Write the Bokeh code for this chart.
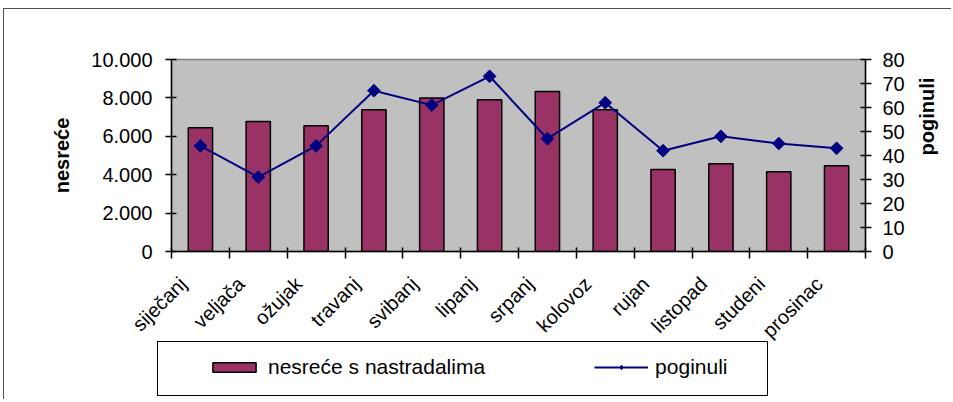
import math
from bokeh.plotting import figure
from bokeh.models import (ColumnDataSource, Range1d, LinearAxis, FixedTicker,
                          Legend, LegendItem)
from bokeh.embed import file_html
from bokeh.resources import INLINE

# ---- data ----
months = ["siječanj", "veljača", "ožujak", "travanj", "svibanj", "lipanj",
          "srpanj", "kolovoz", "rujan", "listopad", "studeni", "prosinac"]
nesrece = [6450, 6770, 6550, 7380, 8000, 7900, 8330, 7380, 4270, 4570, 4150, 4460]
poginuli = [44, 31, 44, 67, 61, 73, 47, 62, 42, 48, 45, 43]
y_ticks = [0, 2000, 4000, 6000, 8000, 10000]
y_tick_labels = ["0", "2.000", "4.000", "6.000", "8.000", "10.000"]
y2_ticks = [0, 10, 20, 30, 40, 50, 60, 70, 80]
series_names = ["nesreće s nastradalima", "poginuli"]

FONT = "Liberation Sans"
FS = "20px"
BAR_COLOR = "#993366"
LINE_COLOR = "#000080"

xpos = [i + 0.5 for i in range(len(months))]
src = ColumnDataSource(dict(x=xpos, nesrece=nesrece, poginuli=poginuli))

p = figure(frame_width=694, frame_height=192,
           min_border_left=167, min_border_right=84,
           min_border_top=50, min_border_bottom=148,
           x_range=Range1d(0, len(months)), y_range=Range1d(0, 10000),
           output_backend="svg", toolbar_location=None)
p.styles = {"margin-left": "3px", "margin-top": "8px",
            "border-left": "1px solid #505050", "border-top": "1px solid #505050"}
p.extra_y_ranges = {"right": Range1d(0, 80)}
p.background_fill_color = "#C0C0C0"
p.border_fill_color = "white"
p.outline_line_color = "#808080"
p.outline_line_width = 1.5
p.grid.visible = False

bars = p.vbar(x="x", top="nesrece", width=0.42, source=src,
              fill_color=BAR_COLOR, line_color="black", line_width=1.5)
ln = p.line(x="x", y="poginuli", y_range_name="right", source=src,
            line_color=LINE_COLOR, line_width=2)
pts = p.scatter(x="x", y="poginuli", y_range_name="right", source=src,
                marker="square", angle=math.pi / 4, size=9,
                fill_color=LINE_COLOR, line_color=LINE_COLOR)

# x axis: tick marks on category boundaries, labels near category centres
label_pos = [x - 0.3 for x in xpos]
xa = p.xaxis[0]
xa.ticker = FixedTicker(ticks=label_pos, minor_ticks=list(range(len(months) + 1)))
xa.major_label_overrides = {x: m for x, m in zip(label_pos, months)}
xa.major_tick_in = 0
xa.major_tick_out = 0
xa.minor_tick_in = 4
xa.minor_tick_out = 7
xa.minor_tick_line_color = "black"
xa.minor_tick_line_width = 1.5
xa.axis_line_width = 1.5
xa.major_label_orientation = math.pi / 4
xa.major_label_standoff = 22
xa.major_label_text_font = FONT
xa.major_label_text_font_size = FS
xa.major_label_text_color = "black"

# left y axis
ya = p.yaxis[0]
ya.ticker = FixedTicker(ticks=y_ticks)
ya.major_label_overrides = {t: l for t, l in zip(y_ticks, y_tick_labels)}

ra = LinearAxis(y_range_name="right", ticker=FixedTicker(ticks=y2_ticks))
p.add_layout(ra, "right")

for ax, lab in [(ya, "nesreće"), (ra, "poginuli")]:
    ax.major_tick_in = 5
    ax.major_tick_out = 6
    ax.major_tick_line_width = 1.5
    ax.axis_line_width = 1.5
    ax.minor_tick_line_color = None
    ax.major_label_text_font = FONT
    ax.major_label_text_font_size = FS
    ax.major_label_text_color = "black"
    ax.axis_label = lab
    ax.axis_label_text_font = FONT
    ax.axis_label_text_font_size = FS
    ax.axis_label_text_font_style = "bold"
    ax.axis_label_text_color = "black"
ya.major_label_standoff = 13
ya.axis_label_standoff = 15
ra.major_label_standoff = 11
ra.axis_label_standoff = 19
try:
    ra.axis_label_orientation = math.pi / 2
except Exception:
    pass

# ---- legend panel (own small figure with a framed box, placed below the chart) ----
p2 = figure(width=611, height=55, min_border=0,
            x_range=Range1d(0, 1), y_range=Range1d(0, 1),
            x_axis_location=None, y_axis_location=None,
            output_backend="svg", toolbar_location=None)
p2.styles = {"position": "absolute", "left": "157px", "top": "341px",
             "border": "1.5px solid black", "background-color": "white"}
p2.grid.visible = False
p2.outline_line_color = None
p2.background_fill_color = "white"
p2.border_fill_color = "white"
nan = float("nan")
lsrc = ColumnDataSource(dict(x=[nan], y=[nan]))
lb = p2.vbar(x="x", top="y", width=0.42, source=lsrc, fill_color=BAR_COLOR,
             line_color="black", line_width=1.5)
ll = p2.line(x="x", y="y", source=lsrc, line_color=LINE_COLOR, line_width=2)
lp = p2.scatter(x="x", y="y", source=lsrc, marker="diamond",
                size=9, fill_color=LINE_COLOR, line_color=LINE_COLOR)

legend = Legend(items=[LegendItem(label=series_names[0], renderers=[lb]),
                       LegendItem(label=series_names[1], renderers=[ll, lp])],
                orientation="horizontal", location=(49, 18), margin=0,
                border_line_color=None, background_fill_alpha=0,
                padding=0, spacing=109, glyph_width=54, glyph_height=12,
                label_standoff=7, label_text_font=FONT, label_text_font_size="21px",
                label_text_color="black", label_height=21)
p2.add_layout(legend)

open("out.html", "w").write(file_html([p, p2], INLINE))
